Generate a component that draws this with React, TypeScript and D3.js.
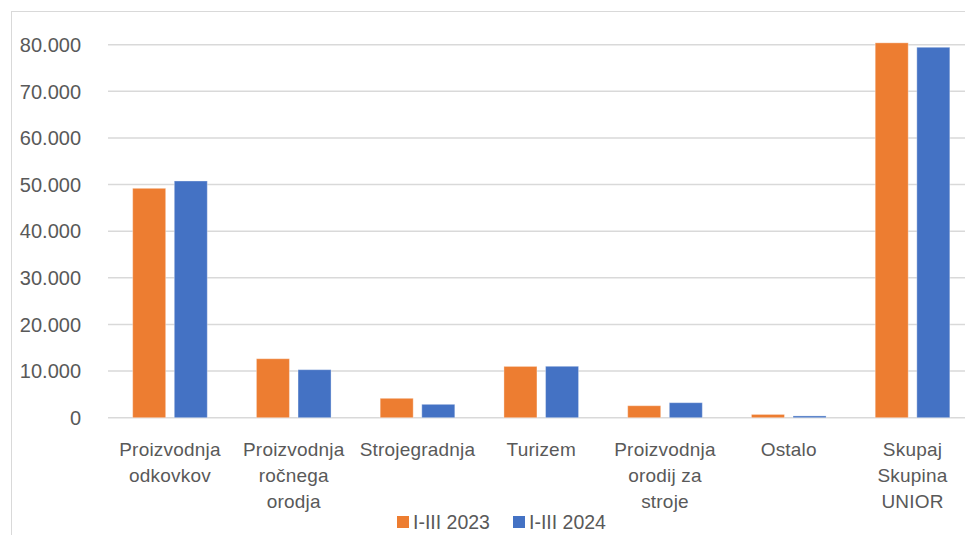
import React from "react";
import * as d3 from "d3";

const categories = [
  "Proizvodnja\nodkovkov",
  "Proizvodnja\nročnega\norodja",
  "Strojegradnja",
  "Turizem",
  "Proizvodnja\norodij za\nstroje",
  "Ostalo",
  "Skupaj\nSkupina\nUNIOR",
];
const seriesNames = ["I-III 2023", "I-III 2024"];
const values2023 = [49200, 12650, 4160, 11000, 2570, 700];
const values2023Total = 80400;
const values2024 = [50770, 10300, 2870, 11030, 3220, 380];
const values2024Total = 79450;
const yTicks = [0, 10000, 20000, 30000, 40000, 50000, 60000, 70000, 80000];
const colors = ["#ED7D31", "#4472C4"];

const W = 965;
const H = 535;

export default function App() {
  const s2023 = [...values2023, values2023Total];
  const s2024 = [...values2024, values2024Total];
  const series = [s2023, s2024];

  const x0 = d3
    .scaleBand<string>()
    .domain(categories)
    .range([108.1, 974.4])
    .paddingInner(0.397)
    .paddingOuter(0.1985);
  const x1 = d3
    .scaleBand<string>()
    .domain(seriesNames)
    .range([0, x0.bandwidth()])
    .paddingInner(0.2067)
    .paddingOuter(0);
  const y = d3.scaleLinear().domain([0, 80000]).range([417.7, 44.7]);
  const fmt = (v: number) => d3.format(",")(v).replace(/,/g, ".");

  const font = "'Liberation Sans', Arial, sans-serif";
  const textColor = "#595959";

  return (
    <svg
      width={W}
      height={H}
      style={{ position: "absolute", left: 0, top: 0, background: "#fff" }}
    >
      <rect x={0} y={0} width={W} height={H} fill="#fff" />
      <rect
        x={11.5}
        y={11.5}
        width={1200}
        height={800}
        fill="none"
        stroke="#D9D9D9"
        strokeWidth={1}
      />
      {yTicks.map((t) => (
        <g key={t}>
          <line
            x1={108}
            x2={975}
            y1={y(t)}
            y2={y(t)}
            stroke="#D9D9D9"
            strokeWidth={1.5}
          />
          <text
            x={81}
            y={y(t)}
            dy="0.36em"
            textAnchor="end"
            fontFamily={font}
            fontSize={20}
            fill={textColor}
          >
            {fmt(t)}
          </text>
        </g>
      ))}
      {series.map((vals, si) =>
        vals.map((v, i) => (
          <rect
            key={`${si}-${i}`}
            x={(x0(categories[i]) || 0) + (x1(seriesNames[si]) || 0)}
            y={y(v)}
            width={x1.bandwidth()}
            height={y(0) - y(v)}
            fill={colors[si]}
            stroke="#ffffff"
            strokeOpacity={0.35}
            strokeWidth={1}
          />
        ))
      )}
      {categories.map((c) => {
        const cx = (x0(c) || 0) + x0.bandwidth() / 2;
        const lines = c.split("\n");
        return (
          <text
            key={c}
            textAnchor="middle"
            fontFamily={font}
            fontSize={19}
            fill={textColor}
            letterSpacing={0.2}
          >
            {lines.map((l, k) => (
              <tspan key={k} x={cx} y={449 + k * 25.9} dy="0.36em">
                {l}
              </tspan>
            ))}
          </text>
        );
      })}
      {seriesNames.map((n, i) => {
        const lx = [397, 513][i];
        return (
          <g key={n}>
            <rect x={lx} y={516} width={12} height={12} fill={colors[i]} />
            <text
              x={lx + 16}
              y={522}
              dy="0.36em"
              fontFamily={font}
              fontSize={19.5}
              fill={textColor}
            >
              {n}
            </text>
          </g>
        );
      })}
    </svg>
  );
}
